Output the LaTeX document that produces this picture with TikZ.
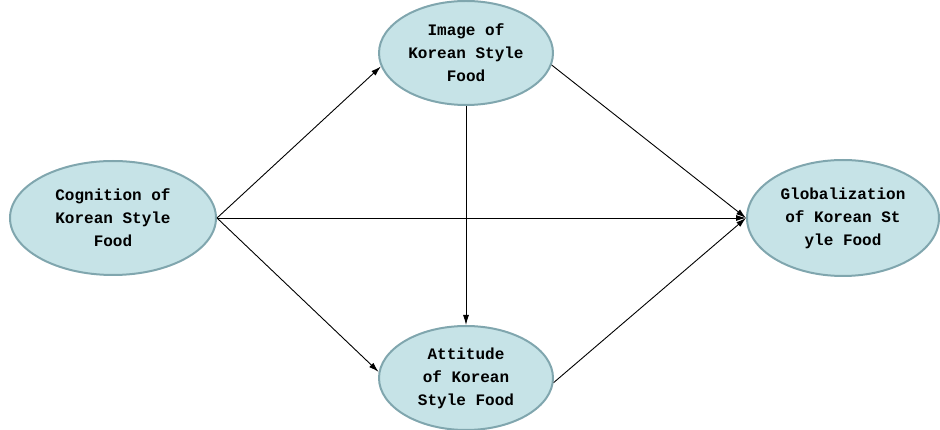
\documentclass[tikz,border=0pt]{standalone}
\usepackage{fontspec}
\setmonofont{Liberation Mono}
\usetikzlibrary{shapes.geometric,arrows.meta}
\definecolor{ovalfill}{RGB}{198,227,231}
\definecolor{ovalline}{RGB}{128,166,174}
\begin{document}
\begin{tikzpicture}
  [x=1pt,y=-1pt,every node/.style={ellipse,draw=ovalline,line width=2pt,fill=ovalfill,inner sep=0pt,align=center,font=\ttfamily\bfseries\fontsize{16}{23}\selectfont}]
  \useasboundingbox (0,0) rectangle (940,430);
  \node (n1)[minimum width=206pt,minimum height=114pt] at (113,218) {Cognition of\\Korean Style\\Food};
  \node (n2)[minimum width=174pt,minimum height=104pt] at (466,53) {Image of\\Korean Style\\Food};
  \node (n3)[minimum width=174pt,minimum height=104pt] at (466,378) {Attitude\\of Korean\\Style Food};
  \node (n4)[minimum width=192pt,minimum height=116pt] at (843,218) {Globalization\\of Korean St\\yle Food};
 \foreach \from/\to in {n1.east/n2.189,n1.east/n3.176,n1.east/n4.west,n2.south/n3.north,n2.-8/n4.west,n3.-3/n4.west}
    \draw[-{Latex[length=10pt,width=6pt]},line width=0.9pt] (\from) -- (\to);
\end{tikzpicture}
\end{document}
